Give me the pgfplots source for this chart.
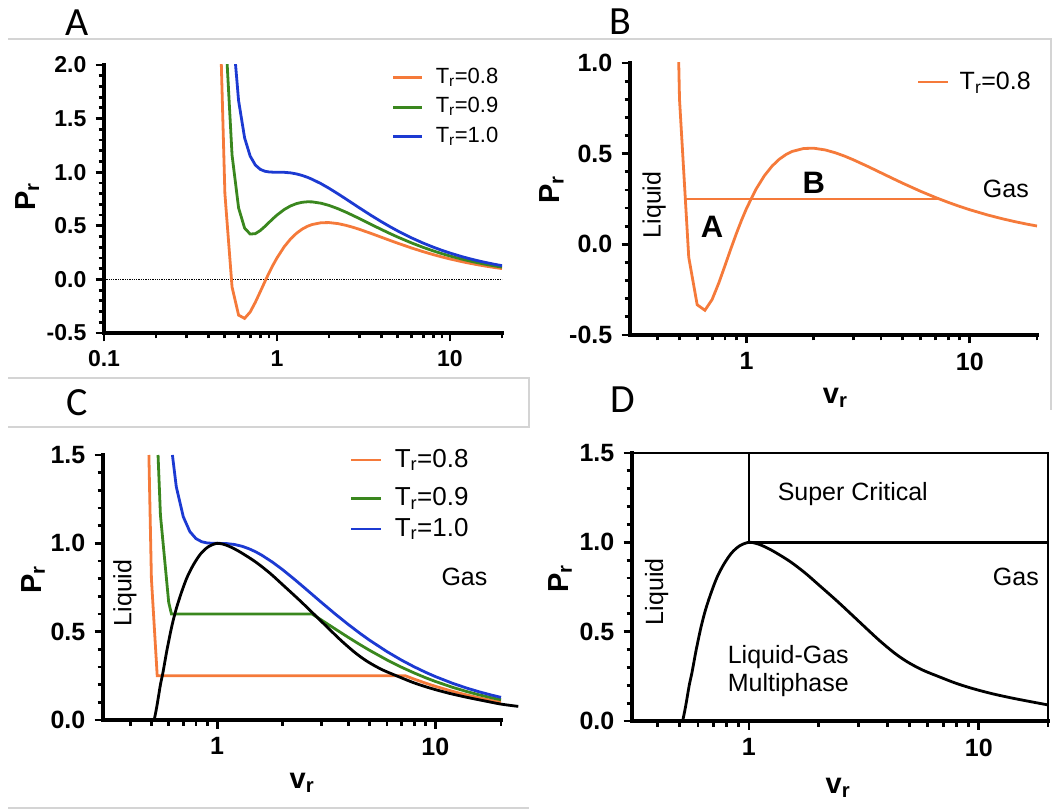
\documentclass[border=0pt]{standalone}
\usepackage{fontspec}
\setmainfont{Liberation Sans}
\newfontfamily\carlito{Carlito}
\usepackage{pgfplots}
\pgfplotsset{compat=1.18}
\usepackage{pgfplotstable}

\definecolor{cOr}{RGB}{245,122,58}
\definecolor{cGr}{RGB}{58,135,30}
\definecolor{cBl}{RGB}{28,58,210}
\definecolor{cFrame}{RGB}{212,212,212}

% van der Waals reduced isotherms, Tr = 0.8
\pgfplotstableread{
v P
0.45 3.4709
0.50 0.8000
0.55 -0.0712
0.60 -0.3333
0.65 -0.3638
0.70 -0.3043
0.75 -0.2133
0.80 -0.1161
0.85 -0.0232
0.90 0.0610
0.95 0.1354
1.00 0.2000
1.10 0.3033
1.20 0.3782
1.30 0.4317
1.40 0.4694
1.50 0.4952
1.60 0.5123
1.80 0.5286
2.00 0.5300
2.25 0.5205
2.50 0.5046
2.75 0.4861
3.00 0.4667
3.50 0.4288
4.00 0.3943
4.50 0.3639
5.00 0.3371
6.00 0.2931
7.00 0.2588
8.00 0.2314
9.00 0.2091
10.0 0.1907
12.0 0.1620
14.0 0.1408
16.0 0.1245
18.0 0.1115
20.0 0.1010
}\TOr
% Tr = 0.9
\pgfplotstableread{
v P
0.45 5.7566
0.50 2.4000
0.55 1.1596
0.60 0.6667
0.65 0.4784
0.70 0.4230
0.75 0.4267
0.80 0.4554
0.85 0.4929
0.90 0.5316
0.95 0.5678
1.00 0.6000
1.10 0.6511
1.20 0.6859
1.30 0.7076
1.40 0.7194
1.50 0.7238
1.60 0.7229
1.80 0.7104
2.00 0.6900
2.25 0.6596
2.50 0.6277
2.75 0.5964
3.00 0.5667
3.50 0.5130
4.00 0.4670
4.50 0.4279
5.00 0.3943
6.00 0.3402
7.00 0.2988
8.00 0.2662
9.00 0.2399
10.0 0.2183
12.0 0.1849
14.0 0.1603
16.0 0.1415
18.0 0.1266
20.0 0.1145
}\TGr
% Tr = 1.0
\pgfplotstableread{
v P
0.45 8.0423
0.50 4.0000
0.55 2.3903
0.60 1.6667
0.65 1.3205
0.70 1.1503
0.75 1.0667
0.80 1.0268
0.85 1.0090
0.90 1.0022
0.95 1.0002
1.00 1.0000
1.10 0.9989
1.20 0.9936
1.30 0.9835
1.40 0.9694
1.50 0.9524
1.60 0.9334
1.80 0.8923
2.00 0.8500
2.25 0.7987
2.50 0.7508
2.75 0.7068
3.00 0.6667
3.50 0.5972
4.00 0.5398
4.50 0.4919
5.00 0.4514
6.00 0.3873
7.00 0.3388
8.00 0.3010
9.00 0.2707
10.0 0.2459
12.0 0.2077
14.0 0.1798
16.0 0.1585
18.0 0.1417
20.0 0.1281
}\TBl
% panel C: isotherms with tie lines
\pgfplotstableread{
v P
0.4869 1.5
0.50 0.8000
0.5316 0.25
7.30 0.25
8.00 0.2314
9.00 0.2091
10.0 0.1907
12.0 0.1620
14.0 0.1408
16.0 0.1245
18.0 0.1115
20.0 0.1010
}\TOrC
\pgfplotstableread{
v P
0.5363 1.5
0.55 1.1596
0.60 0.6667
0.6177 0.6
2.72 0.6
2.75 0.5964
3.00 0.5667
3.50 0.5130
4.00 0.4670
4.50 0.4279
5.00 0.3943
6.00 0.3402
7.00 0.2988
8.00 0.2662
9.00 0.2399
10.0 0.2183
12.0 0.1849
14.0 0.1603
16.0 0.1415
18.0 0.1266
20.0 0.1145
}\TGrC
\pgfplotstableread{
v P
0.6241 1.5
0.65 1.3205
0.70 1.1503
0.75 1.0667
0.80 1.0268
0.85 1.0090
0.90 1.0022
0.95 1.0002
1.00 1.0000
1.10 0.9989
1.20 0.9936
1.30 0.9835
1.40 0.9694
1.50 0.9524
1.60 0.9334
1.80 0.8923
2.00 0.8500
2.25 0.7987
2.50 0.7508
2.75 0.7068
3.00 0.6667
3.50 0.5972
4.00 0.5398
4.50 0.4919
5.00 0.4514
6.00 0.3873
7.00 0.3388
8.00 0.3010
9.00 0.2707
10.0 0.2459
12.0 0.2077
14.0 0.1798
16.0 0.1585
18.0 0.1417
20.0 0.1281
}\TBlC
% coexistence boundary (black)
\pgfplotstableread{
v P
0.515 0.00
0.53 0.08
0.55 0.20
0.565 0.27
0.59 0.40
0.62 0.53
0.65 0.63
0.69 0.73
0.73 0.81
0.78 0.88
0.84 0.94
0.91 0.98
1.00 1.00
1.10 0.99
1.25 0.957
1.50 0.895
1.75 0.83
2.00 0.765
2.40 0.675
2.80 0.595
3.20 0.525
3.70 0.45
4.30 0.38
4.90 0.33
5.70 0.285
6.80 0.245
8.00 0.21
9.50 0.18
11.5 0.152
14.0 0.128
17.0 0.107
20.0 0.09
24.0 0.077
}\TBlack

\tikzset{
  crv/.style={line width=2.8pt},
  annot/.style={font=\fontsize{25}{25}\selectfont},
}
\pgfplotsset{
  every tick/.style={line width=2.8pt, black},
  every major tick/.append style={line width=2.8pt, black},
  every minor tick/.append style={line width=2.8pt, black},
  every x tick/.append style={line width=2.8pt, black},
  every y tick/.append style={line width=2.8pt, black},
  every outer x axis line/.append style={line width=4pt, -, line cap=rect},
  every outer y axis line/.append style={line width=4pt, -, line cap=rect},
  every inner x axis line/.append style={line width=4pt, -, line cap=rect},
  every inner y axis line/.append style={line width=4pt, -, line cap=rect},
  myprismaxis/.style={
    scale only axis,
    axis x line=bottom, axis y line=left,
    axis line style={line width=4pt, -, line cap=rect},
    x axis line style={line width=4pt},
    y axis line style={line width=4pt},
    tick align=outside,
    major tick length=8.5pt, minor tick length=5.5pt,
    major tick style={line width=2.8pt, black},
    minor tick style={line width=2.8pt, black},
    minor y tick num=4,
    xticklabel style={inner sep=0pt},
    yticklabel style={inner sep=0pt},
    xticklabel shift=9pt,
    yticklabel shift=9pt,
    ylabel style={font=\fontsize{29}{29}\selectfont\bfseries},
    xlabel style={font=\fontsize{29}{29}\selectfont\bfseries},
    legend style={draw=none, fill=none, inner sep=0pt, outer sep=0pt,
      row sep=0pt, anchor=north west,
      nodes={inner sep=0pt, outer sep=0pt, text depth={}},
      cells={anchor=base west}},
  },
  legA/.style={legend image code/.code={\draw[##1] (0pt,5.6pt) -- (29pt,5.6pt);}},
  legB/.style={legend image code/.code={\draw[##1] (0pt,8pt) -- (30pt,8pt);}},
  legC/.style={legend image code/.code={\draw[##1] (0pt,7pt) -- (30pt,7pt);}},
}

\begin{document}
\begin{tikzpicture}
\useasboundingbox (0,0) rectangle (1054pt,811pt);

% ---------------- Panel A ----------------
\begin{axis}[myprismaxis, xmode=log, anchor=south west,
  at={(104pt,478pt)}, width=398pt, height=268pt,
  xmin=0.1, xmax=20, ymin=-0.5, ymax=2,
  xtick={0.1,1,10}, xticklabels={0.1,1,10},
  minor xtick={0.2,0.3,0.4,0.5,0.6,0.7,0.8,0.9,2,3,4,5,6,7,8,9,20},
  ytick={-0.5,0,0.5,1,1.5,2}, yticklabels={-0.5,0.0,0.5,1.0,1.5,2.0},
  tick label style={font=\fontsize{23}{23}\selectfont\bfseries},
  ylabel={P\textsubscript{r}},
  ylabel style={at={(axis description cs:-0.193,0.507)}, anchor=center},
  legend style={at={(axis description cs:0.7236,0.9896)},
    font=\fontsize{22}{22}\selectfont, column sep=12pt},
  legA,
]
\addplot[black, densely dotted, line width=1.3pt, forget plot] coordinates {(0.1,0) (20,0)};
\addplot[cOr, crv] table[x=v,y=P] {\TOr};
\addlegendentry{T\textsubscript{r}=0.8\rule[-14pt]{0pt}{29.5pt}}
\addplot[cGr, crv] table[x=v,y=P] {\TGr};
\addlegendentry{T\textsubscript{r}=0.9\rule[-14pt]{0pt}{29.5pt}}
\addplot[cBl, crv] table[x=v,y=P] {\TBl};
\addlegendentry{T\textsubscript{r}=1.0\rule[-14pt]{0pt}{29.5pt}}
\end{axis}

% ---------------- Panel B ----------------
\begin{axis}[myprismaxis, xmode=log, anchor=south west,
  at={(630pt,476pt)}, width=407pt, height=272pt,
  xmin=0.3, xmax=20, ymin=-0.5, ymax=1,
  xtick={1,10}, xticklabels={1,10},
  minor xtick={0.4,0.5,0.6,0.7,0.8,0.9,2,3,4,5,6,7,8,9,20},
  ytick={-0.5,0,0.5,1}, yticklabels={-0.5,0.0,0.5,1.0},
  tick label style={font=\fontsize{25}{25}\selectfont\bfseries},
  ylabel={P\textsubscript{r}}, xlabel={v\textsubscript{r}},
  ylabel style={at={(axis description cs:-0.192,0.533)}, anchor=center},
  xlabel style={at={(axis description cs:0.504,-0.232)}, anchor=center},
  legend style={at={(axis description cs:0.705,0.9688)},
    font=\fontsize{25}{25}\selectfont, column sep=10pt},
  legB,
]
\addplot[cOr, crv] table[x=v,y=P] {\TOr};
\addlegendentry{T\textsubscript{r}=0.8\rule[-5pt]{0pt}{23.5pt}}
\addplot[cOr, crv, forget plot] coordinates {(0.5316,0.25) (7.3,0.25)};
\node[annot, rotate=90] at (axis cs:0.385,0.217) {Liquid};
\node[font=\fontsize{31}{31}\selectfont\bfseries] at (axis cs:0.70,0.096) {A};
\node[font=\fontsize{31}{31}\selectfont\bfseries] at (axis cs:2.0,0.338) {B};
\node[annot] at (axis cs:14.5,0.305) {Gas};
\end{axis}

% ---------------- Panel C ----------------
\begin{axis}[myprismaxis, xmode=log, anchor=south west,
  at={(103pt,91pt)}, width=398pt, height=265pt,
  clip=false,
  xmin=0.3, xmax=20, ymin=0, ymax=1.5,
  xtick={1,10}, xticklabels={1,10},
  minor xtick={0.4,0.5,0.6,0.7,0.8,0.9,2,3,4,5,6,7,8,9,20},
  ytick={0,0.5,1,1.5}, yticklabels={0.0,0.5,1.0,1.5},
  tick label style={font=\fontsize{25}{25}\selectfont\bfseries},
  ylabel={P\textsubscript{r}}, xlabel={v\textsubscript{r}},
  ylabel style={at={(axis description cs:-0.176,0.528)}, anchor=center},
  xlabel style={at={(axis description cs:0.50,-0.238)}, anchor=center},
  legend style={at={(axis description cs:0.6206,1.0264)},
    font=\fontsize{26}{26}\selectfont, column sep=12pt},
  legC,
]
\addplot[cOr, crv] table[x=v,y=P] {\TOrC};
\addlegendentry{T\textsubscript{r}=0.8\rule[-19.7pt]{0pt}{38.7pt}}
\addplot[cGr, crv] table[x=v,y=P] {\TGrC};
\addlegendentry{T\textsubscript{r}=0.9\rule[-11.3pt]{0pt}{30.3pt}}
\addplot[cBl, crv] table[x=v,y=P] {\TBlC};
\addlegendentry{T\textsubscript{r}=1.0\rule[-5pt]{0pt}{24pt}}
\addplot[black, crv, smooth, forget plot] table[x=v,y=P] {\TBlack};
\node[annot, rotate=90] at (axis cs:0.378,0.719) {Liquid};
\node[annot] at (axis cs:13.6,0.809) {Gas};
\end{axis}

% ---------------- Panel D ----------------
\begin{axis}[myprismaxis, xmode=log, anchor=south west,
  at={(632pt,90pt)}, width=416pt, height=268pt,
  clip=false,
  xmin=0.31, xmax=20, ymin=0, ymax=1.5,
  xtick={1,10}, xticklabels={1,10},
  minor xtick={0.4,0.5,0.6,0.7,0.8,0.9,2,3,4,5,6,7,8,9,20},
  ytick={0,0.5,1,1.5}, yticklabels={0.0,0.5,1.0,1.5},
  tick label style={font=\fontsize{25}{25}\selectfont\bfseries},
  ylabel={P\textsubscript{r}}, xlabel={v\textsubscript{r}},
  ylabel style={at={(axis description cs:-0.173,0.53)}, anchor=center},
  xlabel style={at={(axis description cs:0.495,-0.25)}, anchor=center},
]
\addplot[black, line width=2.6pt, line cap=rect] coordinates {(0.31,1.5) (20,1.5) (20,0)};
\addplot[black, line width=2.6pt] coordinates {(1,1) (1,1.5)};
\addplot[black, line width=2.6pt] coordinates {(1,1) (20,1)};
\addplot[black, crv, smooth, skip coords between index={32}{33}] table[x=v,y=P] {\TBlack};
\node[annot] at (axis cs:2.83,1.269) {Super Critical};
\node[annot] at (axis cs:14.5,0.808) {Gas};
\node[annot, rotate=90] at (axis cs:0.397,0.724) {Liquid};
\node[font=\fontsize{25}{28.5}\selectfont, align=center] at (axis cs:1.483,0.281) {Liquid-Gas\\Multiphase};
\end{axis}

% panel letters
\node[font=\carlito\fontsize{40}{40}\selectfont] at (77.5pt,788.5pt) {A};
\node[font=\carlito\fontsize{40}{40}\selectfont] at (620.7pt,789pt) {B};
\node[font=\carlito\fontsize{40}{40}\selectfont] at (77.5pt,408.5pt) {C};
\node[font=\carlito\fontsize{40}{40}\selectfont] at (622.5pt,411pt) {D};

% screenshot frame lines
\draw[cFrame, line width=1.2pt] (8pt,772pt) -- (1051pt,772pt) -- (1051pt,401pt);
\draw[cFrame, line width=1.2pt] (8pt,433pt) -- (529pt,433pt) -- (529pt,384pt) -- (8pt,384pt);
\draw[cFrame, line width=1.2pt] (8pt,3pt) -- (529pt,3pt);
\end{tikzpicture}
\end{document}
